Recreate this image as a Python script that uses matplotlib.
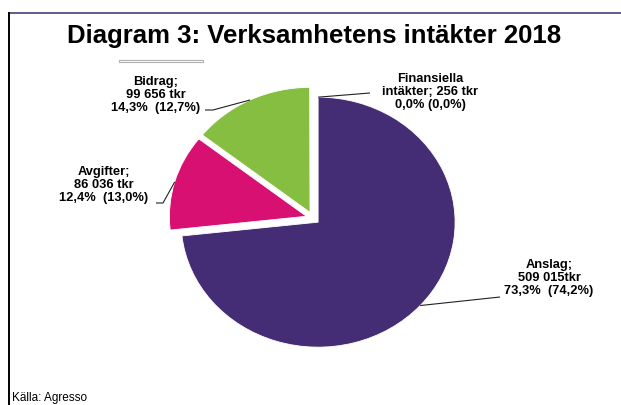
import numpy as np
import matplotlib
matplotlib.use("Agg")
import matplotlib.pyplot as plt
from matplotlib.lines import Line2D
from matplotlib.patches import Rectangle

plt.rcParams['font.family'] = ['Liberation Sans', 'DejaVu Sans']

# ---- data ----
categories = ["Anslag", "Avgifter", "Bidrag", "Finansiella intäkter"]
values_tkr = [509015, 86036, 99656, 256]
pct_2018 = ["73,3%", "12,4%", "14,3%", "0,0%"]
pct_prev = ["(74,2%)", "(13,0%)", "(12,7%)", "(0,0%)"]
label_texts = [
    "Anslag;\n509 015tkr\n73,3%  (74,2%)",
    "Avgifter;\n86 036 tkr\n12,4%  (13,0%)",
    "Bidrag;\n99 656 tkr\n14,3%  (12,7%)",
    "Finansiella\nintäkter; 256 tkr\n0,0% (0,0%)",
]
colors = ["#452D76", "#D81072", "#86BE41", "#7F7F7F"]
title = "Diagram 3: Verksamhetens intäkter 2018"
source = "Källa: Agresso"

W, H = 621, 405
fig = plt.figure(figsize=(W / 100, H / 100), dpi=100)
ax = fig.add_axes([0, 0, 1, 1])

explode = [0.05, 0.05, 0.05, 0.05]
wedges, _ = ax.pie(values_tkr, colors=colors, startangle=90, counterclock=False,
                   explode=explode, wedgeprops=dict(edgecolor="white", linewidth=0.6))
# center pixel (313, 218); 137 px/unit horizontally, 125 px/unit vertically
cx, cy, sx, sy = 313, 218, 137.0, 125.0
ax.set_aspect('auto')
ax.set_xlim(-cx / sx, (W - cx) / sx)
ax.set_ylim(-(H - cy) / sy, cy / sy)
ax.axis('off')

def px2data(x, y):
    return (-cx / sx + x / sx, cy / sy - y / sy)

# label centers (pixels) and leader geometry
label_pos = [(549, 278), (104, 185), (156, 95), (430, 92)]
leader_pts = [
    [(500, 297)],
    [(163, 203), (156, 203)],
    [(213, 110), (205, 110)],
    [(370, 93)],
]
for i, w in enumerate(wedges):
    if i == 3:
        # attach at the top corner of the large wedge (start angle)
        w0 = wedges[0]
        a = np.deg2rad(max(w0.theta1, w0.theta2))
        p0 = (w0.center[0] + w0.r * np.cos(a), w0.center[1] + w0.r * np.sin(a))
    else:
        th = np.deg2rad((w.theta1 + w.theta2) / 2)
        p0 = (w.center[0] + w.r * np.cos(th), w.center[1] + w.r * np.sin(th))
    pts = [p0] + [px2data(*p) for p in leader_pts[i]]
    xs, ys = zip(*pts)
    ax.plot(xs, ys, color="#222222", lw=0.8, solid_capstyle='butt')
    lx, ly = label_pos[i]
    fig.text(lx / W, 1 - ly / H, label_texts[i], ha='center', va='center',
             fontsize=9.3, fontweight='bold', linespacing=1.15, color='black')

fig.text(314 / W, 1 - 36 / H, title, ha='center', va='center',
         fontsize=18.5, fontweight='bold', color='black')
fig.text(12 / W, 1 - 404 / H, source, ha='left', va='bottom', fontsize=8.5, color='black')

# frame lines
fig.add_artist(Line2D([9 / W, 1], [1 - 13 / H, 1 - 13 / H], color="#4B3C78", lw=1.2))
fig.add_artist(Line2D([9 / W, 9 / W], [1 - 13 / H, 0], color="black", lw=1.4))
# small gray legend-like artifact
fig.add_artist(Rectangle((119 / W, 1 - 62 / H), 84 / W, 2 / H, transform=fig.transFigure,
                         facecolor='white', edgecolor='#B0B0B0', lw=0.8))

fig.savefig("out.png", dpi=100)
